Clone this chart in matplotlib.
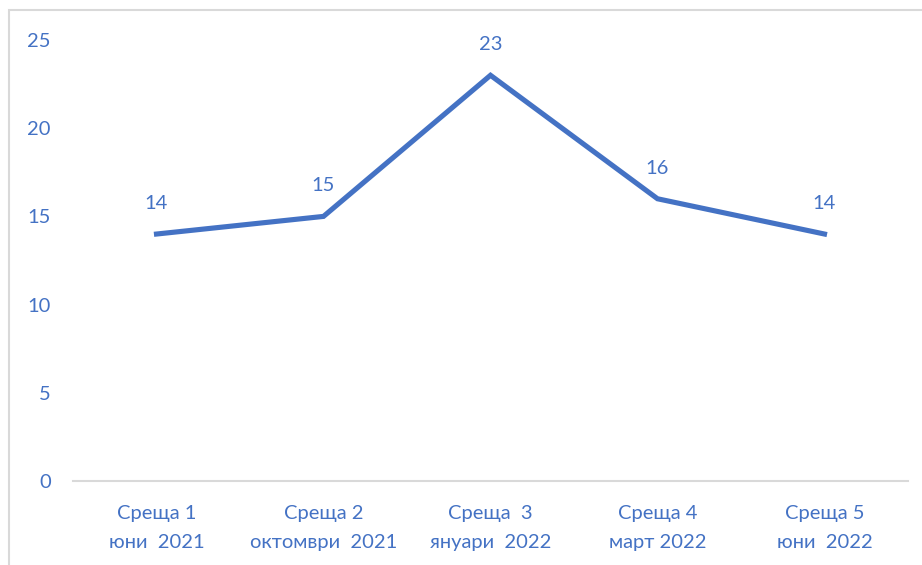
import matplotlib.pyplot as plt
from matplotlib.patches import Rectangle

plt.rcParams['font.family'] = ['Lato', 'Noto Sans', 'DejaVu Sans']

categories = ["Среща 1\nюни  2021", "Среща 2\nоктомври  2021", "Среща  3\nянуари  2022",
              "Среща 4\nмарт 2022", "Среща 5\nюни  2022"]
values = [14, 15, 23, 16, 14]
yticks = [0, 5, 10, 15, 20, 25]

blue = "#4472C4"

fig = plt.figure(figsize=(9.22, 5.65), dpi=100)
ax = fig.add_axes([73 / 922, 84 / 565, 835 / 922, 441 / 565])

x = range(len(values))
ax.plot(x, values, color=blue, linewidth=3.7, solid_joinstyle="miter")
for xi, v in zip(x, values):
    ax.annotate(str(v), (xi, v), xytext=(0, 16), textcoords="offset points",
                ha="center", va="bottom", color=blue, fontsize=14.5)

ax.set_xlim(-0.5, len(values) - 0.5)
ax.set_ylim(0, 25)
ax.set_yticks(yticks)
ax.set_xticks(list(x))
ax.set_xticklabels(categories, linespacing=1.9)
ax.tick_params(axis="both", length=0, labelsize=14.5, labelcolor=blue)
ax.tick_params(axis="x", pad=17)
ax.tick_params(axis="y", pad=16)
for s in ["top", "right", "left"]:
    ax.spines[s].set_visible(False)
ax.spines["bottom"].set_color("#D9D9D9")
ax.spines["bottom"].set_linewidth(1.5)

# chart frame (cropped at right and bottom)
fig.patches.append(Rectangle((9 / 922, -0.1), 1.0, (565 - 10) / 565 + 0.1,
                             transform=fig.transFigure, fill=False,
                             edgecolor="#D9D9D9", linewidth=1.5))

fig.savefig("out.png", dpi=100)
